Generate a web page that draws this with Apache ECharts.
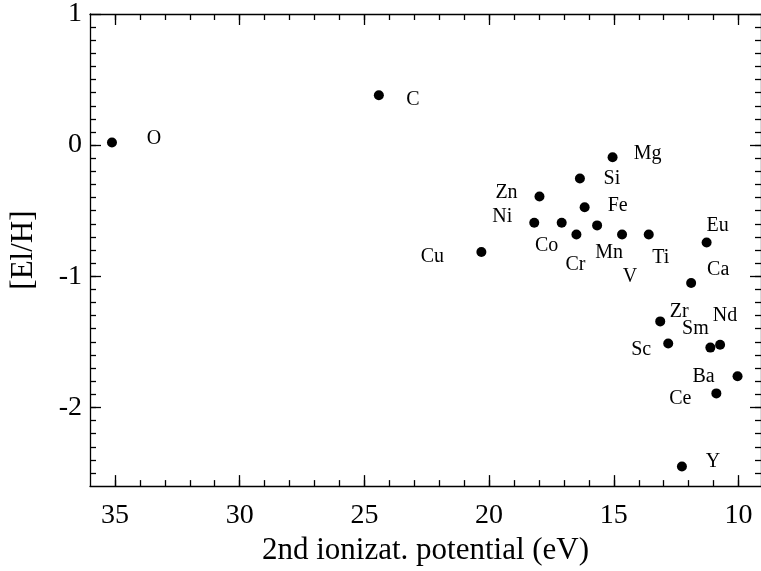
<!DOCTYPE html>
<html>
<head>
<meta charset="utf-8">
<script src="https://cdn.jsdelivr.net/npm/echarts@6/dist/echarts.min.js"></script>
<style>html,body{margin:0;padding:0;background:#fff}#c{width:761px;height:571px}</style>
</head>
<body>
<div id="c"></div>
<script>
// ---- data ----
const elements = ['O','C','Mg','Si','Zn','Fe','Ni','Co','Mn','Cr','V','Ti','Eu','Cu','Ca','Zr','Sc','Sm','Nd','Ba','Ce','Y'];
const ionPot2 = [35.12,24.42,15.05,16.36,17.98,16.17,18.19,17.09,15.67,16.50,14.67,13.60,11.28,20.31,11.90,13.14,12.82,11.13,10.74,10.04,10.89,12.27];
const abundance = [0.02,0.38,-0.093,-0.254,-0.391,-0.474,-0.592,-0.592,-0.612,-0.682,-0.682,-0.682,-0.743,-0.815,-1.051,-1.344,-1.512,-1.544,-1.522,-1.762,-1.893,-2.45];
const xMajorTicks = [10,15,20,25,30,35];
const xMinorTicks = [10,11,12,13,14,15,16,17,18,19,20,21,22,23,24,25,26,27,28,29,30,31,32,33,34,35];
const yMajorTicks = [-2,-1,0,1];
const yMinorTicks = [-2.5,-2.4,-2.3,-2.2,-2.1,-2,-1.9,-1.8,-1.7,-1.6,-1.5,-1.4,-1.3,-1.2,-1.1,-1,-0.9,-0.8,-0.7,-0.6,-0.5,-0.4,-0.3,-0.2,-0.1,0,0.1,0.2,0.3,0.4,0.5,0.6,0.7,0.8,0.9];
const xTitle = '2nd ionizat. potential (eV)';
const yTitle = '[El/H]';

// ---- label placement (styling, px offsets from the dot centre) ----
const labelOffset = {
  O:[42,-4], C:[34,4], Mg:[35,-4], Si:[32,0], Zn:[-33,-4], Fe:[33,-2], Ni:[-32,-6],
  Co:[-15,23], Mn:[12,27], Cr:[-1,30], V:[8,42], Ti:[12,23], Eu:[11,-17], Cu:[-49,5],
  Ca:[27,-13], Zr:[19,-10], Sc:[-27,6], Sm:[-15,-19], Nd:[5,-29], Ba:[-34,1], Ce:[-36,5], Y:[31,-5]
};

const FONT = 'Liberation Serif';
const seriesData = elements.map((el, i) => ({
  name: el,
  value: [ionPot2[i], abundance[i]],
  label: { offset: labelOffset[el] }
}));

const XMIN = 9.1, XMAX = 36, YMIN = -2.6, YMAX = 1;
const lineStyle = { color: '#000', width: 1.3 };

function xAx(pos, ticks, len, showLine, showLabel) {
  return {
    type: 'value', position: pos, inverse: true, min: XMIN, max: XMAX,
    splitLine: { show: false },
    axisLine: { show: showLine, onZero: false, lineStyle },
    axisTick: { show: true, inside: true, length: len, customValues: ticks, lineStyle },
    axisLabel: showLabel ? { show: true, customValues: ticks, margin: 16, color: '#000', fontFamily: FONT, fontSize: 28 } : { show: false }
  };
}
function yAx(pos, ticks, len, showLine, showLabel) {
  return {
    type: 'value', position: pos, min: YMIN, max: YMAX,
    splitLine: { show: false },
    axisLine: { show: showLine, onZero: false, lineStyle },
    axisTick: { show: true, inside: true, length: len, customValues: ticks, lineStyle },
    axisLabel: showLabel ? { show: true, customValues: ticks, margin: 8, color: '#000', fontFamily: FONT, fontSize: 28 } : { show: false }
  };
}

const xAxes = [
  Object.assign(xAx('bottom', xMajorTicks, 11, true, true), {
    name: xTitle, nameLocation: 'middle', nameGap: 40,
    nameTextStyle: { color: '#000', fontFamily: FONT, fontSize: 31 }
  }),
  xAx('bottom', xMinorTicks, 6, false, false),
  xAx('top', xMajorTicks, 11, true, false),
  xAx('top', xMinorTicks, 6, false, false)
];
const yAxes = [
  Object.assign(yAx('left', yMajorTicks, 11, true, true), {
    name: yTitle, nameLocation: 'middle', nameGap: 51, nameRotate: 90,
    nameTextStyle: { color: '#000', fontFamily: FONT, fontSize: 31 }
  }),
  yAx('left', yMinorTicks, 6, false, false),
  yAx('right', yMajorTicks, 11, true, false),
  yAx('right', yMinorTicks, 6, false, false)
];

const chart = echarts.init(document.getElementById('c'), null, { renderer: 'canvas' });
chart.setOption({
  animation: false,
  backgroundColor: '#fff',
  grid: { left: 88, right: -1, top: 14, bottom: 78, containLabel: false },
  xAxis: xAxes,
  yAxis: yAxes,
  series: [{
    type: 'scatter',
    xAxisIndex: 0, yAxisIndex: 0,
    symbol: 'circle', symbolSize: 10,
    itemStyle: { color: '#000', opacity: 1 },
    label: {
      show: true, position: 'inside', formatter: '{b}',
      color: '#000', opacity: 1, fontFamily: FONT, fontSize: 20,
      align: 'center', verticalAlign: 'middle'
    },
    emphasis: { disabled: true },
    data: seriesData
  }]
});
</script>
</body>
</html>
